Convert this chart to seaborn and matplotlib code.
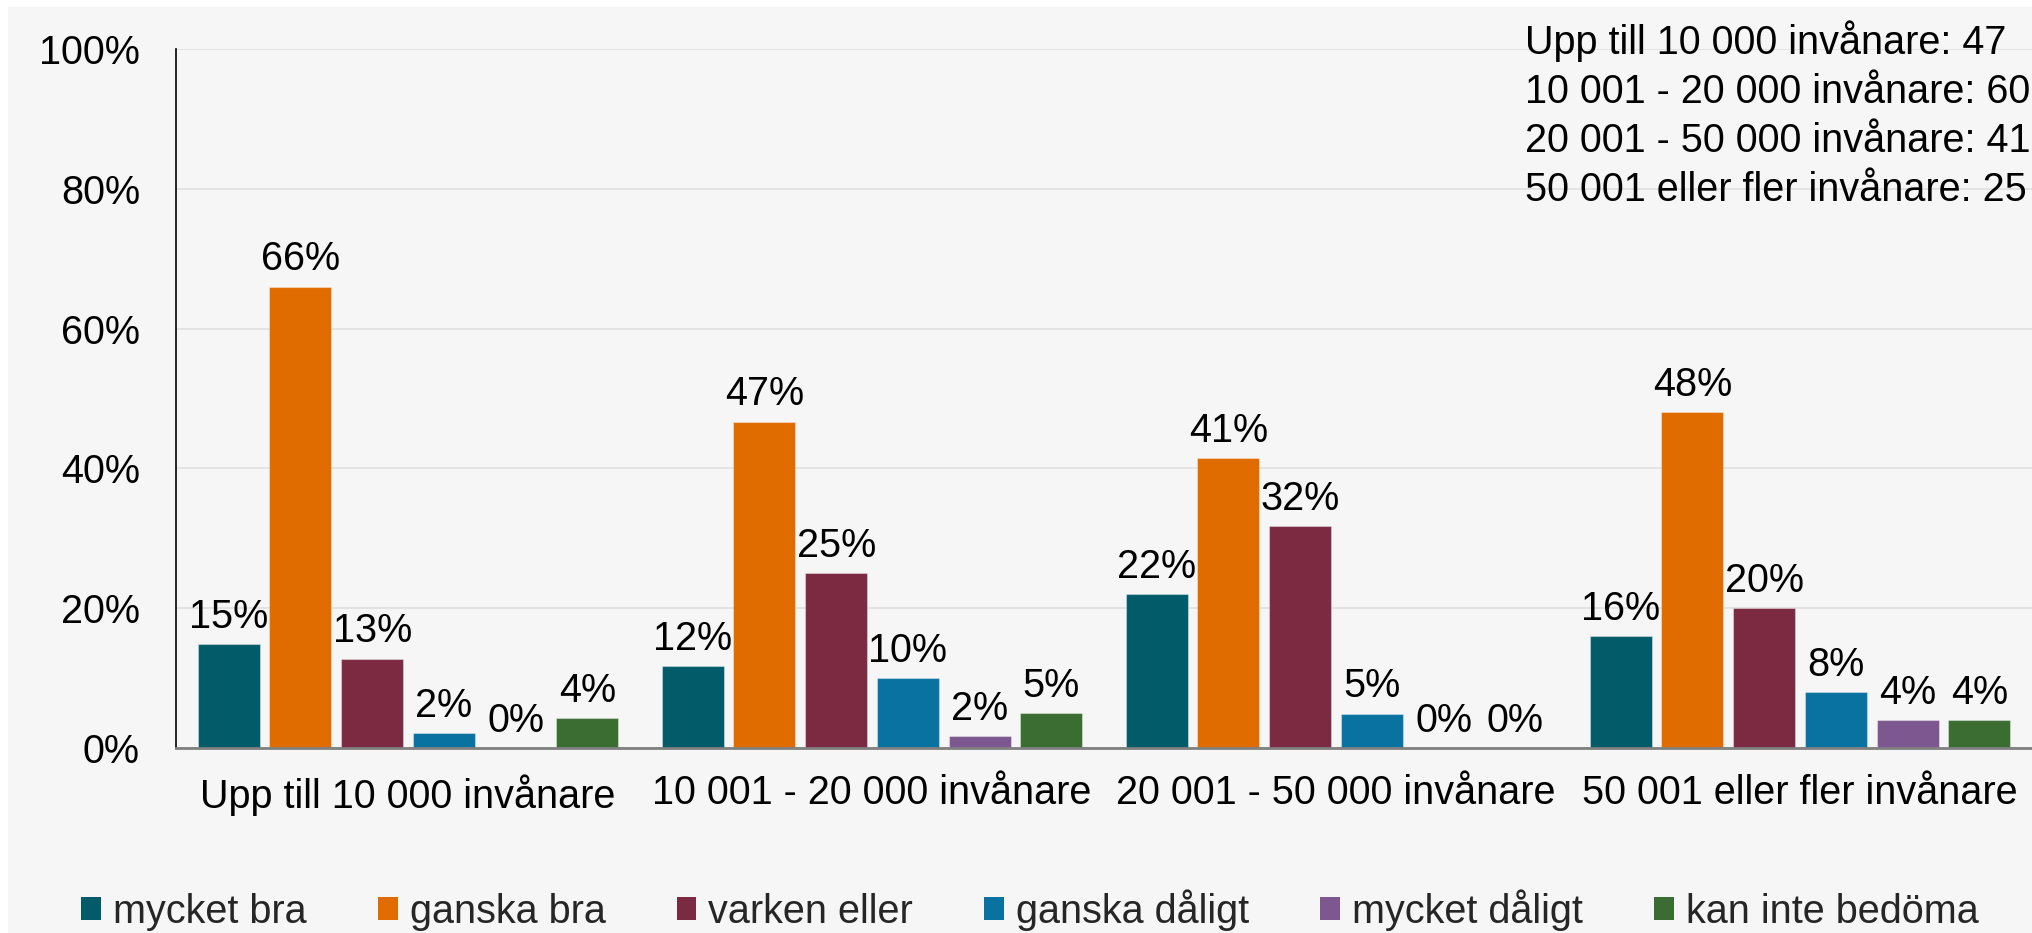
import matplotlib
matplotlib.use("Agg")
import matplotlib.pyplot as plt
from matplotlib.patches import Rectangle, Patch
import seaborn as sns
import pandas as pd

# ---- data ----
groups = ["Upp till 10 000 invånare", "10 001 - 20 000 invånare",
          "20 001 - 50 000 invånare", "50 001 eller fler invånare"]
categories = ["mycket bra", "ganska bra", "varken eller",
              "ganska dåligt", "mycket dåligt", "kan inte bedöma"]
mycket_bra = [14.9, 11.7, 22.0, 16.0]
ganska_bra = [66.0, 46.7, 41.46, 48.0]
varken_eller = [12.8, 25.0, 31.7, 20.0]
ganska_daligt = [2.1, 10.0, 4.9, 8.0]
mycket_daligt = [0.0, 1.7, 0.0, 4.0]
kan_inte_bedoma = [4.3, 5.0, 0.0, 4.0]
series = [mycket_bra, ganska_bra, varken_eller, ganska_daligt, mycket_daligt, kan_inte_bedoma]
colors = ["#025B68", "#E06C00", "#7B2A42", "#0A72A0", "#7D5890", "#3B6D32"]
note_lines = ["Upp till 10 000 invånare: 47", "10 001 - 20 000 invånare: 60",
              "20 001 - 50 000 invånare: 41", "50 001 eller fler invånare: 25"]
yticks = [0, 20, 40, 60, 80, 100]

rows = []
for cat, vals in zip(categories, series):
    for g, v in zip(groups, vals):
        rows.append({"group": g, "category": cat, "value": v})
df = pd.DataFrame(rows)

sns.set_theme(style="white")
plt.rcParams["font.family"] = ["Liberation Sans", "DejaVu Sans"]

W, H = 2033, 933
fig = plt.figure(figsize=(W / 100, H / 100), dpi=100, facecolor="white")
fig.patches.append(Rectangle((8 / W, 0), 1 - 8 / W, 1 - 7 / H, transform=fig.transFigure,
                             facecolor="#F6F6F6", edgecolor="none", zorder=-10))
ax = fig.add_axes([176 / W, 1 - 748 / H, (2032 - 176) / W, (748 - 49) / H])
ax.set_facecolor("none")

sns.barplot(data=df, x="group", y="value", hue="category", hue_order=categories,
            order=groups, palette=colors, saturation=1, width=0.927, gap=0.135,
            estimator="sum", errorbar=None,
            linewidth=0.8, edgecolor=(1, 1, 1, 0.35), legend=False, ax=ax, zorder=3)

FS = 28.5
for cont in ax.containers:
    ax.bar_label(cont, labels=[f"{b.get_height():.0f}%" for b in cont],
                 padding=6, fontsize=FS, color="black", zorder=4)

ax.set_xlim(-0.5, 3.5)
ax.set_ylim(0, 100)
ax.set_yticks(yticks)
ax.set_yticklabels([f"{t}%" for t in yticks])
ax.yaxis.grid(True, color="#E2E2E2", linewidth=1.3, zorder=0)
ax.set_axisbelow(True)
ax.tick_params(axis="y", length=0, pad=26, labelsize=FS, labelcolor="black")
ax.tick_params(axis="x", length=0, pad=19, labelsize=FS, labelcolor="black")
ax.set_xlabel("")
ax.set_ylabel("")
for s in ["top", "right"]:
    ax.spines[s].set_visible(False)
ax.spines["left"].set_color("black")
ax.spines["left"].set_linewidth(1.2)
ax.spines["bottom"].set_color("#808080")
ax.spines["bottom"].set_linewidth(2)
ax.spines["bottom"].set_zorder(5)

baselines = [54, 103, 152, 201]
for line, yb in zip(note_lines, baselines):
    fig.text(1525 / W, 1 - yb / H, line, fontsize=FS, color="black", va="baseline", ha="left")

handles = [Patch(facecolor=c, edgecolor="none", label=l) for c, l in zip(colors, categories)]
fig.legend(handles=handles, loc="center", bbox_to_anchor=(1030 / W, 1 - 910 / H), ncol=6,
           frameon=False, fontsize=FS, handlelength=0.5, handleheight=0.5,
           handletextpad=0.3, columnspacing=1.8, borderaxespad=0)

fig.savefig("out.png", dpi=100, facecolor=fig.get_facecolor())
